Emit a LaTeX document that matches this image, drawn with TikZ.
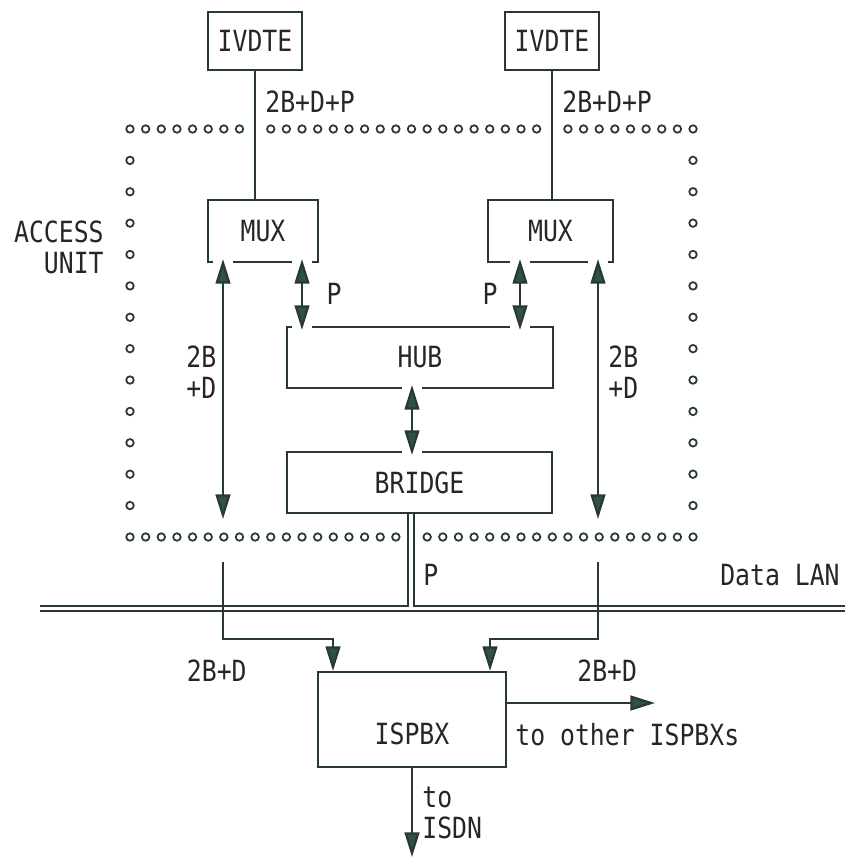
\documentclass[tikz,border=0pt]{standalone}
\usepackage{fontspec}
\setmonofont[FakeStretch=0.85]{DejaVu Sans Mono}
\usetikzlibrary{arrows.meta, calc}

\definecolor{ink}{RGB}{40,56,52}
\definecolor{tipfill}{RGB}{48,80,74}
\newcommand{\lblfont}{\ttfamily\fontsize{16.6pt}{17.6pt}\selectfont}
\newcommand{\edgegap}[1]{\fill[white] ($(#1)+(-10,-3)$) rectangle ($(#1)+(10,3)$);}

\begin{document}
\begin{tikzpicture}[x=0.02cm, y=-0.02cm,
  box/.style={draw=ink, line width=1.25pt, inner sep=0pt, font=\lblfont, text=black!85},
  lbl/.style={font=\lblfont, text=black!85, inner sep=0pt},
  wire/.style={draw=ink, line width=1.25pt},
  arr/.style={wire, -{Triangle[length=14pt, width=8.4pt, fill=tipfill]}},
  dblarr/.style={wire, {Triangle[length=14pt, width=8.4pt, fill=tipfill]}-{Triangle[length=14pt, width=8.4pt, fill=tipfill]}},
  lan/.style={draw=ink, line width=1pt},
  dot/.style={draw=ink, line width=1pt}
]
  \useasboundingbox (0,0) rectangle (845,862);

  % Terminals and access unit boxes
  \node[box, minimum width=1.88cm, minimum height=1.16cm] (ivl) at (255,41) {IVDTE};
  \node[box, minimum width=1.88cm, minimum height=1.16cm] (ivr) at (552,41) {IVDTE};
  \node[box, minimum width=2.2cm, minimum height=1.24cm] (muxl) at (263,231) {MUX\hspace{0.32cm}};
  \node[box, minimum width=2.5cm, minimum height=1.24cm] (muxr) at (550.5,231) {MUX\hspace{0.62cm}};
  \node[box, minimum width=5.32cm, minimum height=1.22cm] (hub) at (420,357.5) {HUB\hspace{0.32cm}};
  \node[box, minimum width=5.3cm, minimum height=1.22cm] (bridge) at (419.5,482.5) {BRIDGE\hspace{0.62cm}};
  \node[box, minimum width=3.76cm, minimum height=1.9cm, text height=1.0cm, text depth=0pt] (ispbx) at (412,719.5) {ISPBX};

  % Helper positions
  \coordinate (xa) at (223,0);
  \coordinate (xp) at (302,0);
  \coordinate (xq) at (520,0);
  \coordinate (xb) at (598,0);
  \coordinate (xh) at (412,0);
  \coordinate (xl1) at (408,0);
  \coordinate (xl2) at (414,0);
  \coordinate (fl) at (333,0);
  \coordinate (fr) at (490,0);
  \coordinate (aubot) at (0,519);
  \coordinate (lanin) at (0,562);
  \coordinate (feed) at (0,639);
  \coordinate (lanl) at (40,606);
  \coordinate (lanr) at (845,606);
  \coordinate (oth) at (655,703);
  \coordinate (isdn) at (412,857);

  % Access unit border
  \foreach \i in {0,...,7,9,10,...,26,28,29,...,36}
    \draw[dot] (130+15.64*\i,129) circle[radius=0.075cm];
  \foreach \i in {0,...,17,19,20,...,36}
    \draw[dot] (130+15.64*\i,537) circle[radius=0.075cm];
  \foreach \j in {1,...,12} {
    \draw[dot] (130,129+31.38*\j) circle[radius=0.075cm];
    \draw[dot] (693,129+31.38*\j) circle[radius=0.075cm];
  }

  % IVDTE lines
  \draw[wire] (ivl.south) -- (ivl.south |- muxl.north);
  \draw[wire] (ivr.south) -- (ivr.south |- muxr.north);

  % Breaks in the box edges at the arrow heads
  \edgegap{muxl.south -| xa}
  \edgegap{muxl.south -| xp}
  \edgegap{muxr.south -| xq}
  \edgegap{muxr.south -| xb}
  \edgegap{hub.north -| xp}
  \edgegap{hub.north -| xq}
  \edgegap{hub.south -| xh}
  \edgegap{bridge.north -| xh}

  % Arrows inside the access unit
  \draw[dblarr] ($(muxl.south -| xa)+(0,-4)$) -- (aubot -| xa);
  \draw[dblarr] ($(muxl.south -| xp)+(0,-4)$) -- ($(hub.north -| xp)+(0,4)$);
  \draw[dblarr] ($(muxr.south -| xq)+(0,-4)$) -- ($(hub.north -| xq)+(0,4)$);
  \draw[dblarr] ($(muxr.south -| xb)+(0,-4)$) -- (aubot -| xb);
  \draw[dblarr] ($(hub.south -| xh)+(0,-4)$) -- ($(bridge.north -| xh)+(0,4)$);

  % Data LAN
  \draw[lan] (lanl) -- (lanl -| xl1) -- (bridge.south -| xl1);
  \draw[lan] (bridge.south -| xl2) -- (lanr -| xl2) -- (lanr);
  \draw[lan] ($(lanl)+(0,5)$) -- ($(lanr)+(0,5)$);

  % Lines to the ISPBX
  \draw[arr] (lanin -| xa) -- (feed -| xa) -- (feed -| fl) -- (ispbx.north -| fl);
  \draw[arr] (lanin -| xb) -- (feed -| xb) -- (feed -| fr) -- (ispbx.north -| fr);
  \draw[arr] (ispbx.east |- oth) -- (oth);
  \draw[arr] (ispbx.south) -- (isdn);

  % Labels
  \node[lbl, anchor=west] (ivlt) at (265,102) {2B+D+P};
  \node[lbl, anchor=west] (ivrt) at (562,102) {2B+D+P};
  \node[lbl, anchor=east, align=right] (aut) at (104,247) {ACCESS\\UNIT};
  \node[lbl] (plt) at (334,294) {P};
  \node[lbl] (prt) at (490,294) {P};
  \node[lbl, anchor=west, align=left] (bdl) at (186,372.5) {2B\\+D};
  \node[lbl, anchor=west, align=left] (bdr) at (608,372.5) {2B\\+D};
  \node[lbl, anchor=east] (lant) at (840,575) {Data LAN};
  \node[lbl, anchor=west] (plan) at (423,575) {P};
  \node[lbl, anchor=east] (bdlo) at (247,671) {2B+D};
  \node[lbl, anchor=west] (bdro) at (577,671) {2B+D};
  \node[lbl, anchor=west] (otht) at (515,735) {to other ISPBXs};
  \node[lbl, anchor=west, align=left] (isdnt) at (422,813) {to\\ISDN};

\end{tikzpicture}
\end{document}
